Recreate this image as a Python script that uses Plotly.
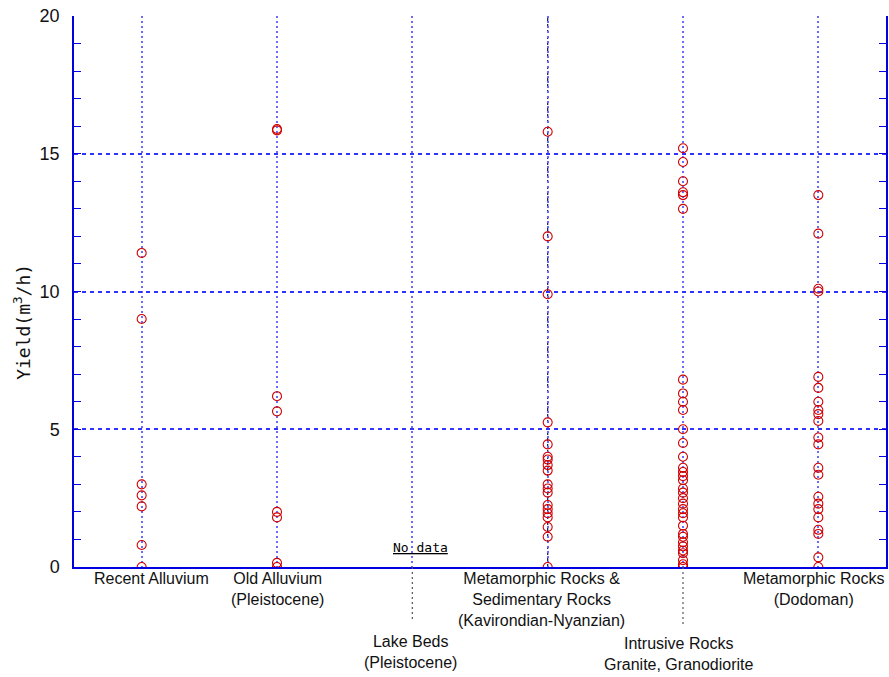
import plotly.graph_objects as go

# Well yield (m3/h) by geological formation
categories = [
    "Recent Alluvium",
    "Old Alluvium (Pleistocene)",
    "Lake Beds (Pleistocene)",
    "Metamorphic Rocks & Sedimentary Rocks (Kavirondian-Nyanzian)",
    "Intrusive Rocks Granite, Granodiorite",
    "Metamorphic Rocks (Dodoman)",
]

category_labels = [
    "Recent Alluvium",
    "Old Alluvium<br>(Pleistocene)",
    "Lake Beds<br>(Pleistocene)",
    "Metamorphic Rocks &amp;<br>Sedimentary Rocks<br>(Kavirondian-Nyanzian)",
    "Intrusive Rocks<br>Granite, Granodiorite",
    "Metamorphic Rocks<br>(Dodoman)",
]

recent_alluvium = [11.4, 9.0, 3.0, 2.6, 2.2, 0.8, 0.0]
old_alluvium = [15.9, 15.85, 6.2, 5.65, 2.0, 1.8, 0.15, 0.0]
lake_beds = []
metamorphic_sedimentary = [15.8, 12.0, 9.9, 5.25, 4.45, 4.0, 3.9, 3.7, 3.5, 3.0,
                           2.85, 2.7, 2.25, 2.1, 1.95, 1.8, 1.45, 1.1, 0.0]
intrusive = [15.2, 14.7, 14.0, 13.6, 13.5, 13.0, 6.8, 6.3, 6.0, 5.7, 5.0, 4.5,
             4.0, 3.6, 3.45, 3.3, 3.15, 2.85, 2.7, 2.5, 2.3, 2.1, 1.95, 1.8,
             1.5, 1.2, 1.1, 0.9, 0.75, 0.6, 0.5, 0.25, 0.1, 0.0]
dodoman = [13.5, 12.1, 10.1, 10.0, 6.9, 6.5, 6.0, 5.7, 5.55, 5.3, 4.7, 4.45,
           3.6, 3.35, 2.55, 2.3, 2.1, 1.8, 1.35, 1.2, 0.35, 0.0]

series = [recent_alluvium, old_alluvium, lake_beds,
          metamorphic_sedimentary, intrusive, dodoman]

y_ticks = [0, 5, 10, 15, 20]

AXIS_BLUE = "#0000e0"
GRID_BLUE = "#3030ff"
DOT_BLUE = "#6a6aff"
RED = "#d00000"
TEXT_FONT = "Liberation Sans, Arial, sans-serif"
MONO_FONT = "DejaVu Sans Mono, monospace"

fig = go.Figure()

xs, ys = [], []
for cat, vals in zip(categories, series):
    xs += [cat] * len(vals)
    ys += vals

fig.add_trace(go.Scatter(
    x=xs, y=ys, mode="markers",
    marker=dict(symbol="circle-open", size=9, color=RED, line=dict(width=1.1, color=RED)),
    showlegend=False,
    hovertemplate="%{x}<br>%{y} m3/h<extra></extra>",
))

# darker dashed guide over the Kavirondian-Nyanzian column
fig.add_shape(type="line", xref="x", yref="y", x0=3, x1=3, y0=0, y1=20,
              line=dict(color="#22226e", width=1.3, dash="3px,3px"), layer="below")

# leader lines from the axis down to the lower labels
for idx, depth in [(2, -0.097), (4, -0.106)]:
    fig.add_shape(type="line", xref="x", yref="paper", x0=idx, x1=idx, y0=0, y1=depth,
                  line=dict(color="#555555", width=1.2, dash="2px,3px"))

# category labels under the axis
label_shifts = [(10, -1), (0, -1), (-2, -64), (-6, -1), (-4, -66), (-5, -1)]
for cat, text, (dx, dy) in zip(categories, category_labels, label_shifts):
    fig.add_annotation(x=cat, y=0, xref="x", yref="paper", text=text,
                       showarrow=False, yanchor="top", xshift=dx, yshift=dy,
                       font=dict(family=TEXT_FONT, size=16, color="#111111"))

fig.add_annotation(x=categories[2], y=0.7, xref="x", yref="y",
                   text="<u>No data</u>", showarrow=False, xshift=8,
                   font=dict(family=MONO_FONT, size=13, color="#000000"))

# rotated y-axis title
fig.add_annotation(x=-0.064, y=0.445, xref="paper", yref="paper",
                   xanchor="center", yanchor="middle",
                   text="Yield(m<sup>3</sup>/h)", textangle=-90, showarrow=False,
                   font=dict(family=MONO_FONT, size=18, color="#111111"))

fig.update_xaxes(
    type="category", categoryorder="array", categoryarray=categories,
    range=[-0.5, 5.5], showticklabels=False, ticks="",
    showgrid=True, gridcolor=DOT_BLUE, griddash="2px,3px", gridwidth=1.5,
    showline=True, linecolor=AXIS_BLUE, linewidth=2, zeroline=False,
)

fig.update_yaxes(
    range=[0, 20], tickvals=y_ticks, ticks="inside", ticklen=7,
    tickcolor=AXIS_BLUE, tickwidth=1,
    minor=dict(dtick=1, ticks="inside", ticklen=7, tickcolor=AXIS_BLUE, showgrid=False),
    showgrid=True, gridcolor=GRID_BLUE, griddash="4px,4px", gridwidth=1.5,
    showline=True, linecolor=AXIS_BLUE, linewidth=1.5, mirror="allticks",
    zeroline=False, ticklabelstandoff=9,
    tickfont=dict(family=TEXT_FONT, size=18, color="#111111"),
)

fig.update_layout(
    width=889, height=677,
    margin=dict(l=74, r=3, t=16, b=110, autoexpand=False),
    plot_bgcolor="white", paper_bgcolor="white",
)

fig.write_html("out.html")
